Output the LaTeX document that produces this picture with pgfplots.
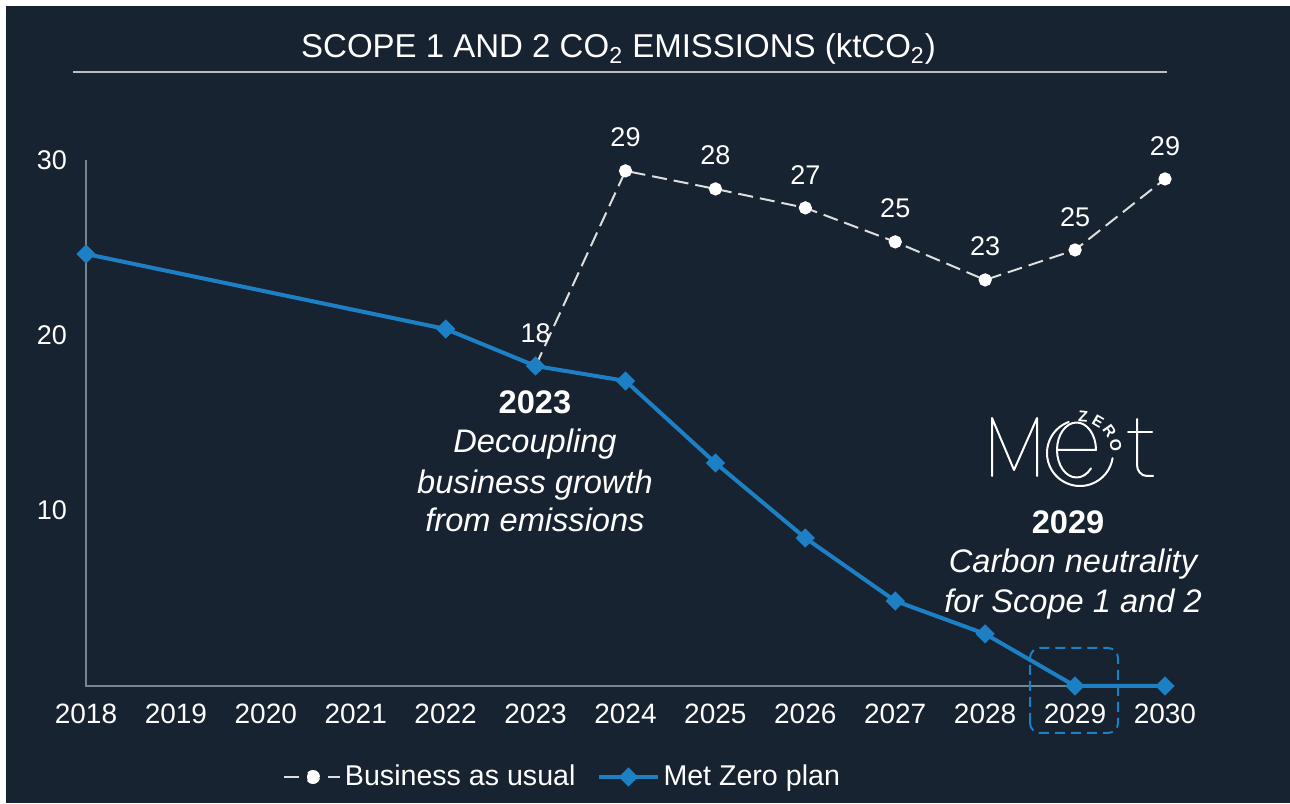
\documentclass[border=0pt]{standalone}
\usepackage{pgfplots}
\pgfplotsset{compat=1.18}
\usepackage{fontspec}
\setmainfont{Liberation Sans}
\definecolor{bg}{RGB}{23,35,48}
\definecolor{mzblue}{RGB}{30,128,196}
\definecolor{axgray}{RGB}{120,132,145}
\definecolor{bauwhite}{RGB}{222,222,222}
\definecolor{titleline}{RGB}{190,190,190}
\begin{document}
\begin{tikzpicture}
\begin{scope}[x=0.5pt,y=0.5pt]
\fill[white] (0,0) rectangle (1290,803);
\fill[bg] (6,0) rectangle (1290,797);
\node[anchor=base, text=white, font=\fontsize{16.5}{18}\selectfont, inner sep=0pt] at (618.5,745) {SCOPE 1 AND 2 CO\textsubscript{2} EMISSIONS (ktCO\textsubscript{2})};
\draw[line width=1pt, titleline] (73,731) -- (1167,731);
\draw[axgray, line width=0.6pt] (86,643) -- (86,117) -- (1165,117);
\draw[mzblue, line width=1pt, dash pattern=on 5pt off 3pt, rounded corners=5pt] (1030,70) rectangle (1118,155);
\end{scope}
\begin{axis}[
  at={(43pt,58.5pt)}, anchor=south west,
  scale only axis, width=539.5pt, height=263pt,
  xmin=2018, xmax=2030, ymin=0, ymax=30,
  axis x line=bottom, axis y line=left, axis line style={draw=none},
  xtick={2018,2019,...,2030}, ytick={10,20,30},
  major tick length=0pt,
  /pgf/number format/1000 sep={}, /pgf/number format/assume math mode=true,
  xticklabel style={font=\fontsize{14}{16}\selectfont, text=white, yshift=-5.5pt},
  yticklabel style={font=\fontsize{13.5}{16}\selectfont, text=white, xshift=-6pt},
  clip=false,
  legend columns=2,
  legend style={draw=none, fill=none, text=white, font=\fontsize{14.3}{16}\selectfont,
    at={(0.4425,-0.173)}, anchor=center,
    /tikz/every even column/.append style={column sep=9pt}},
  legend image code/.code={\draw[mark repeat=2,mark phase=2] plot coordinates {(0pt,0pt)(14.5pt,0pt)(29pt,0pt)};},
]
\addplot[bauwhite, line width=1pt, dash pattern=on 7.5pt off 3.5pt,
  mark=*, mark size=2.8pt, mark options={solid, fill=white, draw=white},
  nodes near coords, point meta=explicit symbolic,
  every node near coord/.append style={font=\fontsize{13.5}{16}\selectfont, text=white, yshift=8pt},
  legend image code/.code={
    \draw[bauwhite, line width=1pt, solid] (0pt,0pt) -- (7.5pt,0pt);
    \draw[bauwhite, line width=1pt, solid] (22pt,0pt) -- (28pt,0pt);
    \fill[white] (14.5pt,0pt) circle (3pt);}
] table[x=x, y=y, meta=l] {
x    y     l
2023 18.25 18
2024 29.38 29
2025 28.35 28
2026 27.27 27
2027 25.33 25
2028 23.16 23
2029 24.87 25
2030 28.92 29
};
\addlegendentry{Business as usual}
\addplot[mzblue, line width=2pt, mark=square*, mark size=2.4pt, mark options={rotate=45, solid, fill=mzblue}] table[x=x, y=y] {
x    y
2018 24.64
2022 20.36
2023 18.25
2024 17.40
2025 12.72
2026 8.44
2027 4.85
2028 2.97
2029 0
2030 0
};
\addlegendentry{Met Zero plan}
\end{axis}
\begin{scope}[x=0.5pt,y=0.5pt]
\node[anchor=base, text=white, font=\bfseries\fontsize{16.3}{20}\selectfont] at (535,389) {2023};
\node[anchor=base, text=white, font=\itshape\fontsize{16.3}{20}\selectfont] at (535,350) {Decoupling};
\node[anchor=base, text=white, font=\itshape\fontsize{16.3}{20}\selectfont] at (535,309) {business growth};
\node[anchor=base, text=white, font=\itshape\fontsize{16.3}{20}\selectfont] at (535,271) {from emissions};
\node[anchor=base, text=white, font=\bfseries\fontsize{16.3}{20}\selectfont] at (1068,269) {2029};
\node[anchor=base, text=white, font=\itshape\fontsize{16.3}{20}\selectfont] at (1073,230) {Carbon neutrality};
\node[anchor=base, text=white, font=\itshape\fontsize{16.3}{20}\selectfont] at (1073,190) {for Scope 1 and 2};
% logo
\begin{scope}[white, line width=1pt, line cap=round, line join=round]
\draw (992,327) -- (992,385) -- (1014,333) -- (1037,385) -- (1037,327);
\draw (1068.7,381) arc[start angle=110, end angle=351, radius=33];
\draw (1057,353) -- (1096,353) arc[start angle=0, end angle=318, x radius=19.5, y radius=27.5];
\draw (1137,384) -- (1137,338) to[out=-90,in=180] (1147,327) -- (1153,327);
\draw (1128,371) -- (1152,371);
\end{scope}
\begin{scope}[every node/.style={text=white, font=\bfseries\fontsize{7.8}{8}\selectfont, inner sep=0pt}]
\node[rotate=-5] at (1083.1,386.5) {Z};
\node[rotate=-30] at (1098,382) {E};
\node[rotate=-55] at (1109.6,371.5) {R};
\node[rotate=-78] at (1115.6,358) {O};
\end{scope}
\pgfresetboundingbox
\path[use as bounding box] (0,0) rectangle (1290,803);
\end{scope}
\end{tikzpicture}
\end{document}
